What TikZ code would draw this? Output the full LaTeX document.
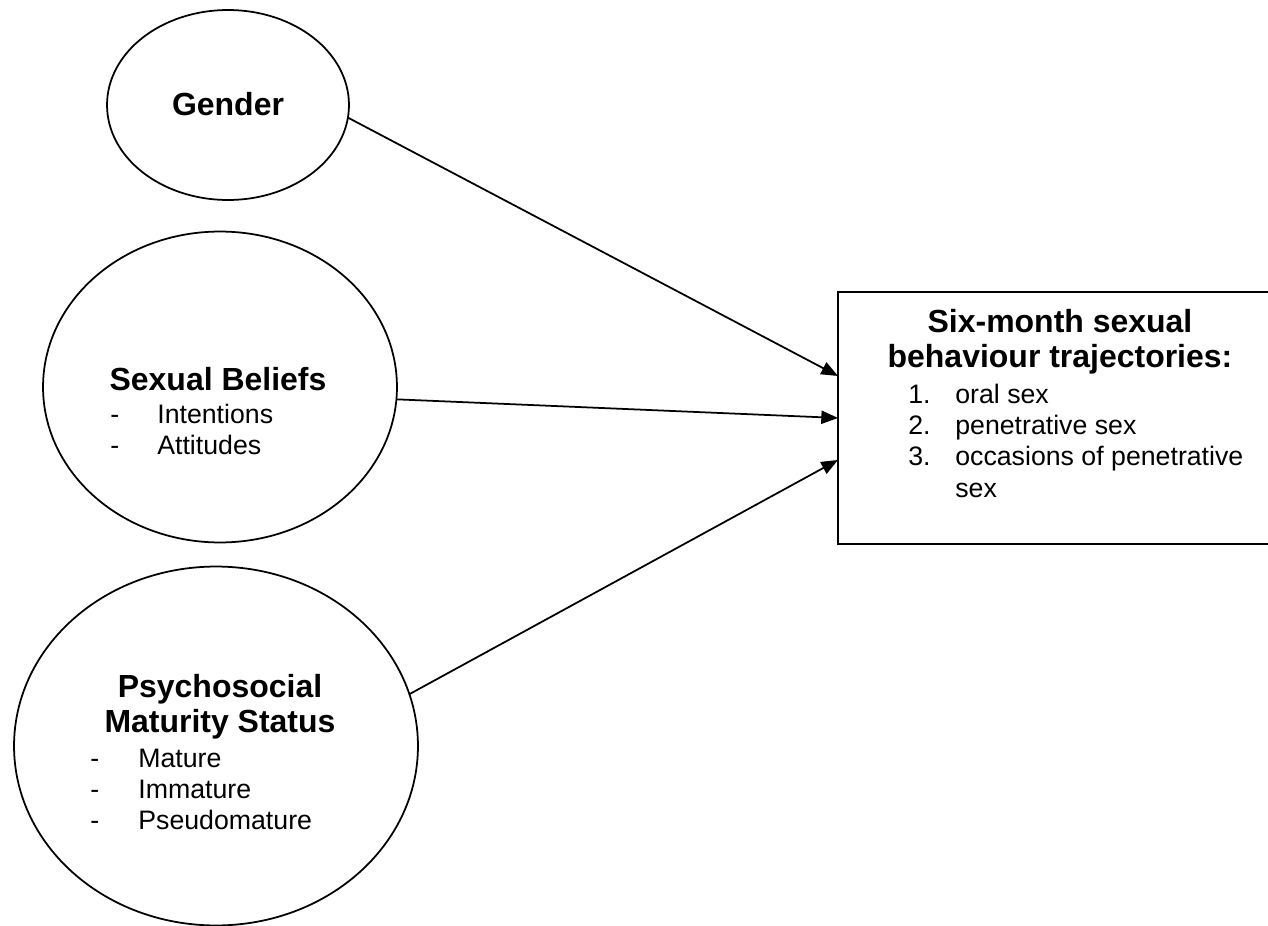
\documentclass[tikz,border=0pt]{standalone}
\usepackage{fontspec}
\setmainfont{Liberation Sans}
\usepackage{tikz}
\usetikzlibrary{shapes.geometric}
\usetikzlibrary{arrows.meta}

\begin{document}
\begin{tikzpicture}[x=0.02cm, y=-0.02cm,
    oval/.style={draw, ellipse, line width=1pt, inner sep=0pt, outer sep=0pt},
    outcome/.style={draw, rectangle, line width=1pt, inner sep=0pt, outer sep=0pt,
        anchor=north west, minimum width=8.72cm, minimum height=5.04cm},
    head/.style={font=\fontsize{18.2}{20.3}\selectfont\bfseries, inner sep=0pt, anchor=base},
    body/.style={font=\fontsize{15.2}{17.9}\selectfont, inner sep=0pt, anchor=base west},
    link/.style={-{Triangle[length=9.5pt,width=7.5pt]}, line width=1pt}]
    \useasboundingbox (0,0) rectangle (1268,926);

    % Predictors
    \node[oval, minimum width=4.84cm, minimum height=3.8cm] (gender) at (228,105) {};
    \node[head] (gendertxt) at (228,115) {Gender};

    \node[oval, minimum width=7.08cm, minimum height=6.22cm] (beliefs) at (220,387) {};
    \node[head] (beliefstxt) at (218,390) {Sexual Beliefs};
    \node[body] (beliefslist) at (110,423) {\begin{tabular}[t]{@{}p{0.94cm}@{}l@{}}
        - & Intentions\\
        - & Attitudes
    \end{tabular}};

    \node[oval, minimum width=8.08cm, minimum height=7.18cm] (psych) at (216,746) {};
    \node[head] (psychtxt) at (220,697) {\begin{tabular}[t]{@{}c@{}}
        Psychosocial\\
        Maturity Status
    \end{tabular}};
    \node[body] (psychlist) at (90,767) {\begin{tabular}[t]{@{}p{0.96cm}@{}l@{}}
        - & Mature\\
        - & Immature\\
        - & Pseudomature
    \end{tabular}};

    % Outcome box
    \node[outcome] (traj) at (838,292) {};
    \node[head] (trajtxt) at (1060,332) {\begin{tabular}[t]{@{}c@{}}
        Six-month sexual\\
        behaviour trajectories:
    \end{tabular}};
    \node[body] (trajlist) at (908,403) {\begin{tabular}[t]{@{}p{0.94cm}@{}l@{}}
        1. & oral sex\\
        2. & penetrative sex\\
        3. & occasions of penetrative\\
           & sex
    \end{tabular}};

    % Paths
    \draw[link] (gender.-6) -- ([yshift=0.84cm]traj.west);
    \draw[link] (beliefs.-4) -- (traj.west);
    \draw[link] (psych.15) -- ([yshift=-0.84cm]traj.west);
\end{tikzpicture}
\end{document}
